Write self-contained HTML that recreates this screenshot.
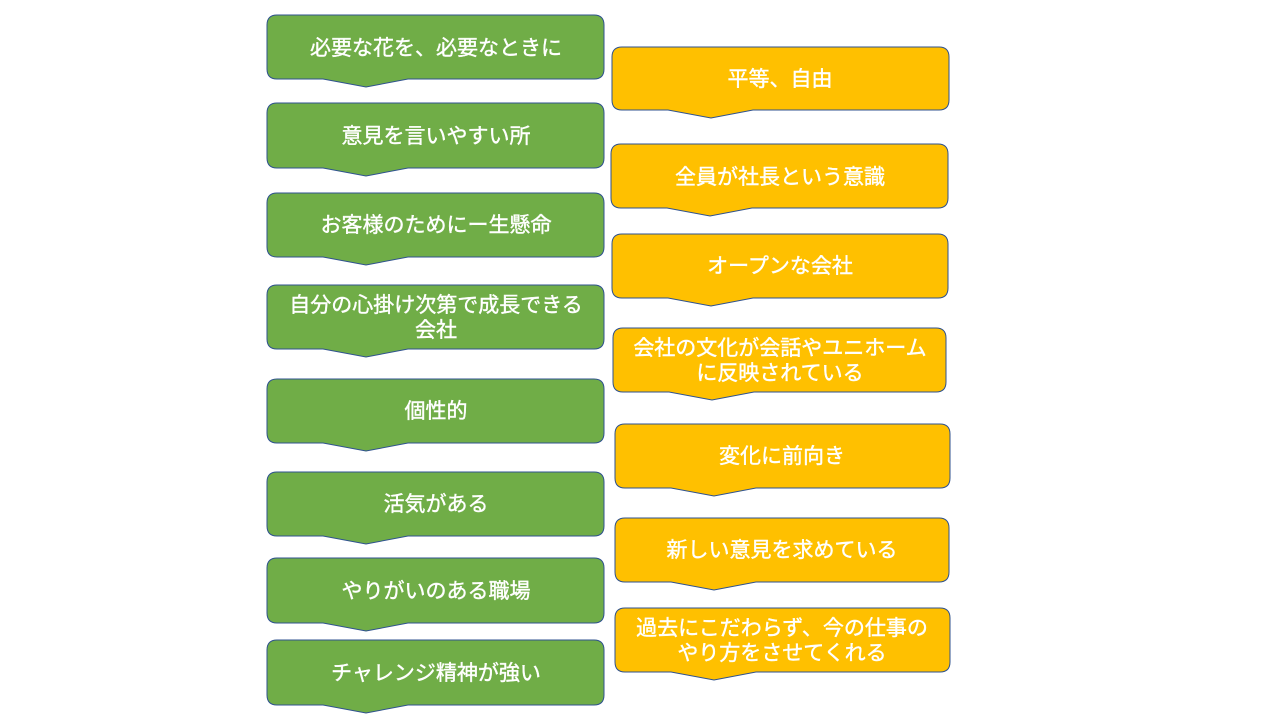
<!DOCTYPE html>
<html><head><meta charset="utf-8"><style>
html,body{margin:0;padding:0;background:#fff;width:1280px;height:720px;overflow:hidden}
svg text{font-family:"Liberation Sans","Noto Sans CJK JP",sans-serif;font-size:21px;fill:#fff;stroke:#fff;stroke-width:0.4px;text-anchor:middle}
</style></head><body>
<svg width="1280" height="720" xmlns="http://www.w3.org/2000/svg">
<g stroke="#2f528f" stroke-width="1">
<g fill="#70ad47">
<path d="M277,15 H594 Q604,15 604,25 V69 Q604,79 594,79 H408 L366,87 L323,79 H277 Q267,79 267,69 V25 Q267,15 277,15 Z"/>
<path d="M277,103 H594 Q604,103 604,113 V158 Q604,168 594,168 H408 L366,176 L323,168 H277 Q267,168 267,158 V113 Q267,103 277,103 Z"/>
<path d="M277,193 H594 Q604,193 604,203 V247 Q604,257 594,257 H408 L366,265 L323,257 H277 Q267,257 267,247 V203 Q267,193 277,193 Z"/>
<path d="M277,285 H594 Q604,285 604,295 V339 Q604,349 594,349 H408 L366,357 L323,349 H277 Q267,349 267,339 V295 Q267,285 277,285 Z"/>
<path d="M277,379 H594 Q604,379 604,389 V433 Q604,443 594,443 H408 L366,451 L323,443 H277 Q267,443 267,433 V389 Q267,379 277,379 Z"/>
<path d="M277,472 H594 Q604,472 604,482 V526 Q604,536 594,536 H408 L366,544 L323,536 H277 Q267,536 267,526 V482 Q267,472 277,472 Z"/>
<path d="M277,558 H594 Q604,558 604,568 V613 Q604,623 594,623 H408 L366,631 L323,623 H277 Q267,623 267,613 V568 Q267,558 277,558 Z"/>
<path d="M277,640 H594 Q604,640 604,650 V695 Q604,705 594,705 H408 L366,713 L323,705 H277 Q267,705 267,695 V650 Q267,640 277,640 Z"/>
</g>
<g fill="#ffc000">
<path d="M622,47 H939 Q949,47 949,57 V100 Q949,110 939,110 H753 L711,118 L668,110 H622 Q612,110 612,100 V57 Q612,47 622,47 Z"/>
<path d="M621,144 H938 Q948,144 948,154 V198 Q948,208 938,208 H752 L710,216 L667,208 H621 Q611,208 611,198 V154 Q611,144 621,144 Z"/>
<path d="M622,234 H938 Q948,234 948,244 V288 Q948,298 938,298 H753 L711,306 L668,298 H622 Q612,298 612,288 V244 Q612,234 622,234 Z"/>
<path d="M623,328 H936 Q946,328 946,338 V382 Q946,392 936,392 H754 L712,400 L669,392 H623 Q613,392 613,382 V338 Q613,328 623,328 Z"/>
<path d="M625,424 H940 Q950,424 950,434 V478 Q950,488 940,488 H756 L714,496 L671,488 H625 Q615,488 615,478 V434 Q615,424 625,424 Z"/>
<path d="M625,518 H939 Q949,518 949,528 V572 Q949,582 939,582 H756 L714,590 L671,582 H625 Q615,582 615,572 V528 Q615,518 625,518 Z"/>
<path d="M625,608 H940 Q950,608 950,618 V662 Q950,672 940,672 H756 L714,680 L671,672 H625 Q615,672 615,662 V618 Q615,608 625,608 Z"/>
</g>
</g>
<text x="436" y="55">必要な花を、必要なときに</text>
<text x="436" y="143">意見を言いやすい所</text>
<text x="436" y="232">お客様のためにー生懸命</text>
<text x="436" y="312">自分の心掛け次第で成長できる</text>
<text x="436" y="337">会社</text>
<text x="436" y="418">個性的</text>
<text x="436" y="511">活気がある</text>
<text x="436" y="598">やりがいのある職場</text>
<text x="436" y="680">チャレンジ精神が強い</text>
<text x="780" y="86">平等、自由</text>
<text x="780" y="184">全員が社長という意識</text>
<text x="780" y="273">オープンな会社</text>
<text x="780" y="355">会社の文化が会話やユニホーム</text>
<text x="780" y="380">に反映されている</text>
<text x="782" y="463">変化に前向き</text>
<text x="782" y="557">新しい意見を求めている</text>
<text x="782" y="635">過去にこだわらず、今の仕事の</text>
<text x="782" y="660">やり方をさせてくれる</text>
</svg>
</body></html>
